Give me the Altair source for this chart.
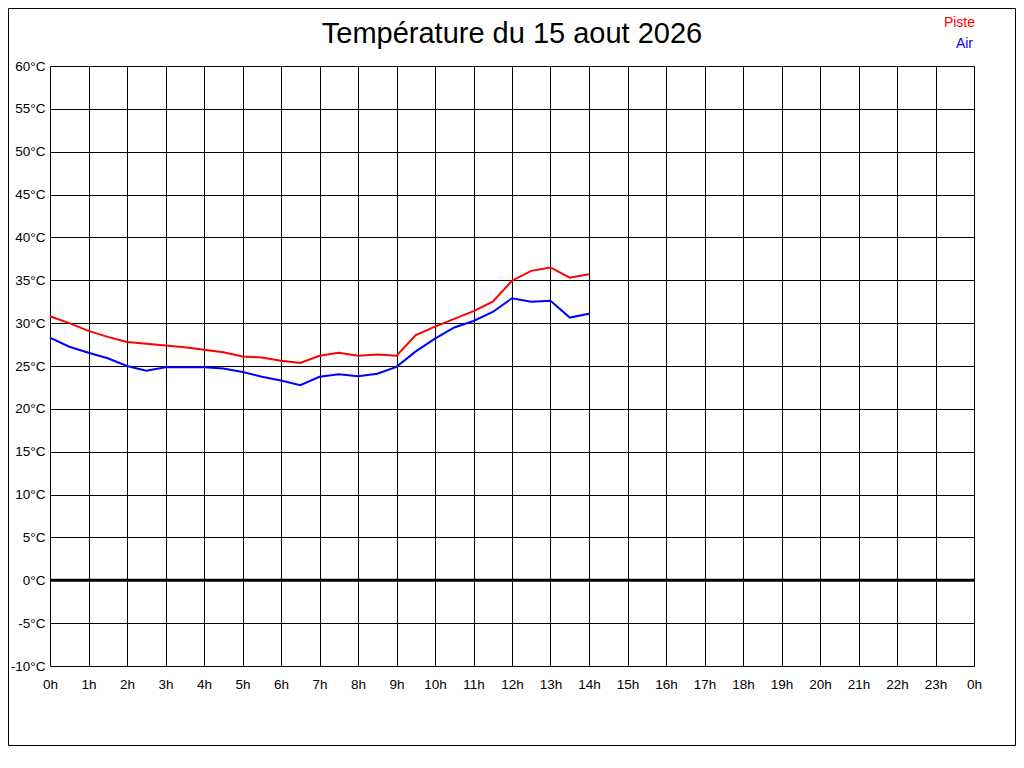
import altair as alt
import pandas as pd

# ---- data ----
hours = [0, 0.5, 1, 1.5, 2, 2.5, 3, 3.5, 4, 4.5, 5, 5.5, 6, 6.5, 7,
         7.5, 8, 8.5, 9, 9.5, 10, 10.5, 11, 11.5, 12, 12.5, 13, 13.5, 14]
piste = [30.8, 30.0, 29.1, 28.4, 27.8, 27.6, 27.4, 27.2, 26.9, 26.6, 26.1, 26.0, 25.6, 25.35, 26.2,
         26.55, 26.2, 26.35, 26.2, 28.6, 29.6, 30.5, 31.4, 32.5, 34.95, 36.1, 36.5, 35.3, 35.7]
air = [28.3, 27.25, 26.55, 25.9, 25.0, 24.45, 24.85, 24.85, 24.85, 24.7, 24.3, 23.75, 23.3, 22.75, 23.75,
       24.05, 23.8, 24.1, 24.9, 26.7, 28.2, 29.5, 30.25, 31.3, 32.9, 32.5, 32.6, 30.65, 31.1]
series_names = ["Piste", "Air"]
series_colors = ["#ff0000", "#0000ff"]
x_ticks = list(range(0, 25))
y_ticks = list(range(-10, 61, 5))
title_text = ["Température du 15 aout 2026"]

FONT = "Liberation Sans"

df = pd.DataFrame(
    {"heure": hours * 2,
     "temp": piste + air,
     "serie": [series_names[0]] * len(hours) + [series_names[1]] * len(hours)}
)

color_scale = alt.Scale(domain=series_names, range=series_colors)

x_enc = alt.X("heure:Q", scale=alt.Scale(domain=[0, 24], nice=False),
              axis=alt.Axis(values=x_ticks, labelExpr="(datum.value % 24) + 'h'",
                            title=None, labelPadding=11, labelFontSize=13.5,
                            labelFlush=False))
y_enc = alt.Y("temp:Q", scale=alt.Scale(domain=[-10, 60], nice=False, zero=False),
              axis=alt.Axis(values=y_ticks, labelExpr="datum.value + '°C'",
                            title=None, labelPadding=5, labelFontSize=13.5,
                            labelFlush=False))

lines = alt.Chart(df).mark_line(strokeWidth=2).encode(
    x=x_enc, y=y_enc,
    color=alt.Color("serie:N", scale=color_scale, legend=None),
)

zero = alt.Chart(pd.DataFrame({"v": [0]})).mark_rule(color="black", strokeWidth=3).encode(
    y=alt.Y("v:Q")
)

title = alt.Chart(pd.DataFrame({"t": title_text})).mark_text(
    align="center", baseline="alphabetic", font=FONT, fontSize=29, color="black"
).encode(text="t:N", x=alt.value(462), y=alt.value(-23))

leg_piste = alt.Chart(pd.DataFrame({"serie": [series_names[0]]})).mark_text(
    align="right", baseline="alphabetic", font=FONT, fontSize=14
).encode(text="serie:N", color=alt.Color("serie:N", scale=color_scale, legend=None),
         x=alt.value(925), y=alt.value(-39))

leg_air = alt.Chart(pd.DataFrame({"serie": [series_names[1]]})).mark_text(
    align="right", baseline="alphabetic", font=FONT, fontSize=14
).encode(text="serie:N", color=alt.Color("serie:N", scale=color_scale, legend=None),
         x=alt.value(923), y=alt.value(-18))

frame = alt.Chart(pd.DataFrame({"f": [0]})).mark_rect(
    filled=False, stroke="black", strokeWidth=1
).encode(x=alt.value(-41.5), x2=alt.value(965.5), y=alt.value(-57.5), y2=alt.value(679.5))

chart = alt.layer(lines, zero, title, leg_piste, leg_air, frame).properties(
    width=924, height=600,
    background="white",
    autosize=alt.AutoSizeParams(type="none"),
    padding={"left": 42, "top": 58, "right": 42, "bottom": 80},
).configure_axis(
    grid=True, gridColor="black", gridOpacity=1, gridWidth=1,
    ticks=False, domain=False, labelColor="black", labelFont=FONT,
).configure_view(strokeWidth=0)

chart.save("out.html", embed_options={"renderer": "svg", "actions": False})
